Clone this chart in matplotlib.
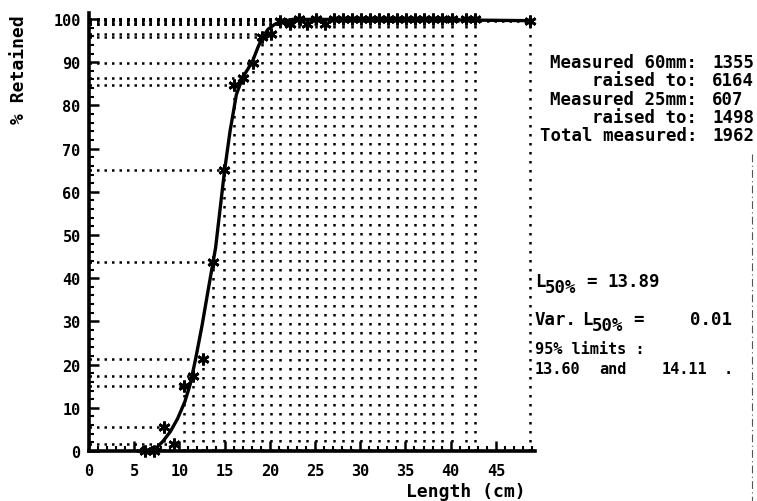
import matplotlib
matplotlib.use("Agg")
import matplotlib.pyplot as plt
from matplotlib.lines import Line2D

W, H = 757, 502
MONO = "DejaVu Sans Mono"

# observed points: length (cm) vs % retained
length = [6.2, 7.2, 8.3, 9.4, 10.5, 11.5, 12.6, 13.7, 14.9, 16.0, 17.0, 18.1, 19.1,
          20.1, 21.1, 22.2, 23.2, 24.1, 25.1, 26.1, 27.1, 28.1, 29.1, 30.1, 31.1,
          32.1, 33.1, 34.1, 35.1, 36.1, 37.1, 38.1, 39.1, 40.1, 41.7, 42.7, 48.8]
retained = [0.0, 0.0, 5.5, 1.6, 15.0, 17.3, 21.2, 43.7, 65.0, 84.7, 86.3, 89.8, 95.8,
            96.5, 99.6, 98.8, 100.0, 98.8, 100.0, 98.8, 100.0, 100.0, 100.0, 100.0, 100.0,
            100.0, 100.0, 100.0, 100.0, 100.0, 100.0, 100.0, 100.0, 100.0, 100.0, 100.0, 99.5]

# fitted selection curve
curve_x = [5.5, 6.5, 7.5, 8.2, 9.0, 9.8, 10.6, 11.2, 11.8, 12.5, 13.2, 14.0, 14.5,
           15.0, 15.6, 16.3, 17.0, 17.6, 18.1, 18.7, 19.2, 19.8, 20.5, 21.1, 22.5,
           30.0, 40.0, 49.0]
curve_y = [0.0, 0.2, 0.8, 2.3, 4.5, 7.5, 11.4, 15.5, 21.4, 29.0, 37.5, 47.0, 56.0,
           65.0, 74.0, 82.5, 86.5, 88.5, 90.3, 93.5, 95.8, 97.6, 98.7, 99.3, 99.9,
           99.9, 99.8, 99.6]

count_labels = ["Measured 60mm:", "raised to:", "Measured 25mm:", "raised to:", "Total measured:"]
count_values = ["1355", "6164", "607", "1498", "1962"]

l50, var_l50, lim_lo, lim_hi = "13.89", "0.01", "13.60", "14.11"


def px(x, y):
    # pixel position (from top-left) -> figure fraction
    return x / W, 1 - y / H


fig = plt.figure(figsize=(W / 100, H / 100), dpi=100)
ax = fig.add_axes([89 / W, 50 / H, 445.7 / W, 438.5 / H])
ax.set_xlim(0, 49.3)
ax.set_ylim(0, 101.5)

# dotted drop lines from every point to both axes
for x, y in zip(length, retained):
    ax.plot([x, x], [0, y], color="black", lw=1.8, ls=(0, (1, 2.6)),
            dash_capstyle="butt", zorder=1)
    ax.plot([0, x], [y, y], color="black", lw=1.8, ls=(0, (1, 2.0)),
            dash_capstyle="butt", zorder=1)

ax.plot(curve_x, curve_y, color="black", lw=2.4, zorder=3, clip_on=False,
        solid_joinstyle="round")
ax.plot(length, retained, ls="none", marker=(6, 2, 0), ms=8.5, mew=2.0,
        color="black", zorder=4, clip_on=False)

for s in ["top", "right"]:
    ax.spines[s].set_visible(False)
for s in ["left", "bottom"]:
    ax.spines[s].set_linewidth(2.6)

ax.set_xticks(range(0, 50, 5))
ax.set_xticks(range(0, 50, 1), minor=True)
ax.set_yticks(range(0, 101, 10))
ax.set_yticks(range(0, 101, 2), minor=True)
ax.tick_params(which="major", direction="in", length=7, width=1.8, labelsize=11, pad=9)
ax.tick_params(which="minor", direction="in", length=3.5, width=1.5)
ax.tick_params(axis="y", pad=6)
for t in ax.get_xticklabels() + ax.get_yticklabels():
    t.set_fontfamily(MONO)
    t.set_fontweight("bold")

txt = dict(family=MONO, weight="bold", color="black")
fig.text(*px(19, 70), "% Retained", rotation=90, ha="center", va="center", fontsize=13, **txt)
fig.text(*px(466, 492), "Length (cm)", ha="center", va="center", fontsize=13, **txt)

# counts block, colon-aligned
for i, (lab, val) in enumerate(zip(count_labels, count_values)):
    yy = 63 + i * 18.3
    fig.text(*px(697, yy), lab, ha="right", va="center", fontsize=12.5, **txt)
    fig.text(*px(712, yy), val, ha="left", va="center", fontsize=12.5, **txt)

# L50 block
fs = 12.5
fig.text(*px(535, 282), "L", ha="left", va="center", fontsize=fs, **txt)
fig.text(*px(545, 288), "50%", ha="left", va="center", fontsize=fs, **txt)
fig.text(*px(586, 282), "=", ha="left", va="center", fontsize=fs, **txt)
fig.text(*px(607, 282), l50, ha="left", va="center", fontsize=fs, **txt)

fig.text(*px(535, 320), "Var.", ha="left", va="center", fontsize=fs, **txt)
fig.text(*px(582, 320), "L", ha="left", va="center", fontsize=fs, **txt)
fig.text(*px(592, 326), "50%", ha="left", va="center", fontsize=fs, **txt)
fig.text(*px(633, 320), "=", ha="left", va="center", fontsize=fs, **txt)
fig.text(*px(690, 320), var_l50, ha="left", va="center", fontsize=fs, **txt)

fs2 = 11
fig.text(*px(535, 350), "95% limits :", ha="left", va="center", fontsize=fs2, **txt)
fig.text(*px(535, 369), lim_lo, ha="left", va="center", fontsize=fs2, **txt)
fig.text(*px(599, 369), "and", ha="left", va="center", fontsize=fs2, **txt)
fig.text(*px(662, 369), lim_hi, ha="left", va="center", fontsize=fs2, **txt)
fig.text(*px(724, 369), ".", ha="left", va="center", fontsize=fs2, **txt)

# faint paper-edge mark seen on the scan
fig.add_artist(Line2D([752 / W, 752 / W], [1 - 155 / H, 0], transform=fig.transFigure,
                      color="#555555", lw=0.8, ls=(0, (7, 3, 1, 3))))

fig.savefig("out.png", dpi=100)
